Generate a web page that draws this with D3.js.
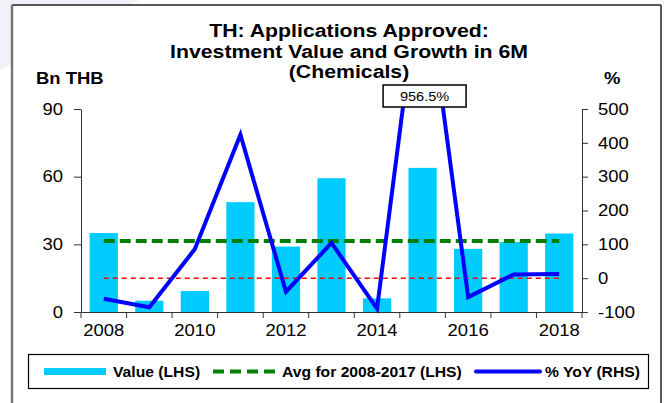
<html>
<head>
<meta charset="utf-8">
<title>TH Applications Approved - Chemicals</title>
<script src="https://cdn.jsdelivr.net/npm/d3@7"></script>
<style>
  body { margin: 0; background: #fff; }
  text { font-family: "Liberation Sans", Arial, sans-serif; fill: #000; }
</style>
</head>
<body>
<div id="chart"></div>
<script>
(function(){
  "use strict";

  // data
  var years = ["2008","2009","2010","2011","2012","2013","2014","2015","2016","2017","2018"];
  var values = [35, 5, 9.3, 48.7, 29, 59.3, 6.05, 63.9, 28, 31, 34.8];        // Bn THB (LHS)
  var yoy = [-61, -86, 86, 424, -40, 104, -89.8, 956.5, -56, 11, 12];          // % YoY (RHS)
  var avg0817 = 31.5;                                                            // avg 2008-2017 (LHS)
  var yearLabels = ["2008","2010","2012","2014","2016","2018"];
  var leftTicks = [0, 30, 60, 90];
  var rightTicks = [-100, 0, 100, 200, 300, 400, 500];
  var titleLines = ["TH: Applications Approved:", "Investment Value and Growth in 6M", "(Chemicals)"];
  var legendNames = ["Value (LHS)", "Avg for 2008-2017 (LHS)", "% YoY (RHS)"];

  var W = 669, H = 403;
  var K = 1.12; // horizontal stretch of the lettering
  var plot = { left: 81, right: 582, top: 109, bottom: 312 };

  var svg = d3.select("#chart").append("svg")
    .attr("width", W).attr("height", H);

  // faint backdrop at top-left corner
  svg.append("path")
    .attr("d", "M0,0 L140,0 L0,70 Z")
    .attr("fill", "#f1f1fa");

  // outer frame
  svg.append("rect").attr("x", 12).attr("y", 5).attr("width", 649).attr("height", 420)
    .attr("fill", "#fff").attr("stroke", "none");
  svg.append("line").attr("x1", 12).attr("y1", 5).attr("x2", 661).attr("y2", 5)
    .attr("stroke", "#222").attr("stroke-width", 1.5);
  svg.append("line").attr("x1", 661).attr("y1", 5).attr("x2", 661).attr("y2", H)
    .attr("stroke", "#222").attr("stroke-width", 1.5);
  svg.append("line").attr("x1", 12).attr("y1", 5).attr("x2", 12).attr("y2", H)
    .attr("stroke", "#777").attr("stroke-width", 2.5);

  function label(parent, x, y, s, size, weight, anchor) {
    return parent.append("text")
      .attr("transform", "translate(" + x + "," + y + ") scale(" + K + ",1)")
      .attr("font-size", size)
      .attr("font-weight", weight)
      .attr("text-anchor", anchor)
      .text(s);
  }

  // title
  var titleY = [37, 57.5, 78];
  titleLines.forEach(function(t, i){
    label(svg, 349, titleY[i], t, 19, "bold", "middle");
  });
  label(svg, 36, 84, "Bn THB", 16.5, "bold", "start");
  label(svg, 604, 84, "%", 16.5, "bold", "start");

  // scales
  var x = d3.scaleBand()
    .domain(years)
    .range([plot.left, plot.right])
    .paddingInner(0.38)
    .paddingOuter(0.19);
  var xEdge = d3.scaleLinear().domain([0, years.length]).range([plot.left, plot.right]);
  var yL = d3.scaleLinear().domain([0, 90]).range([plot.bottom, plot.top]);
  var yR = d3.scaleLinear().domain([-100, 500]).range([plot.bottom, plot.top]);
  var cx = function(d){ return x(d) + x.bandwidth() / 2; };

  // bars
  svg.append("g").selectAll("rect")
    .data(years)
    .enter().append("rect")
      .attr("x", function(d){ return x(d); })
      .attr("width", x.bandwidth())
      .attr("y", function(d, i){ return yL(values[i]); })
      .attr("height", function(d, i){ return yL(0) - yL(values[i]); })
      .attr("fill", "#00ccff");

  // zero line of RHS (red dashed)
  svg.append("line")
    .attr("x1", cx(years[0])).attr("x2", cx(years[years.length - 1]))
    .attr("y1", yR(0)).attr("y2", yR(0))
    .attr("stroke", "#ff0000").attr("stroke-width", 1.5)
    .attr("stroke-dasharray", "5,4");

  // average line (green dashed)
  svg.append("line")
    .attr("x1", cx(years[0])).attr("x2", cx(years[years.length - 1]))
    .attr("y1", yL(avg0817)).attr("y2", yL(avg0817))
    .attr("stroke", "#008000").attr("stroke-width", 4)
    .attr("stroke-dasharray", "11,5");

  // yoy line, clipped near the top of the plot
  svg.append("clipPath").attr("id", "clipTop")
    .append("rect").attr("x", 0).attr("y", 95).attr("width", W).attr("height", H);

  var line = d3.line()
    .x(function(d, i){ return cx(years[i]); })
    .y(function(d){ return yR(d); });

  svg.append("path")
    .datum(yoy)
    .attr("clip-path", "url(#clipTop)")
    .attr("d", line)
    .attr("fill", "none")
    .attr("stroke", "#0000ff")
    .attr("stroke-width", 4)
    .attr("stroke-linejoin", "miter");

  // callout for the off-scale point
  var peak = years[yoy.indexOf(d3.max(yoy))];
  var boxW = 83, boxH = 22;
  var bx = cx(peak) + 2 - boxW / 2, by = yR(500) - 2 - boxH;
  svg.append("rect")
    .attr("x", bx).attr("y", by).attr("width", boxW).attr("height", boxH)
    .attr("fill", "#fff").attr("stroke", "#000").attr("stroke-width", 1.5);
  label(svg, bx + boxW / 2, by + 16, d3.max(yoy) + "%", 13, "normal", "middle");

  function stretchTicks(g) {
    g.selectAll("text")
      .attr("font-family", "'Liberation Sans', Arial, sans-serif")
      .attr("fill", "#000")
      .attr("x", function(){ return (+d3.select(this).attr("x") || 0) / K; })
      .attr("transform", "scale(" + K + ",1)");
    g.selectAll("path, line").attr("stroke", "#333");
  }

  // left axis
  var gL = svg.append("g")
    .attr("transform", "translate(" + plot.left + ",0)")
    .call(d3.axisLeft(yL).tickValues(leftTicks).tickFormat(String)
      .tickSize(7).tickSizeOuter(0).tickPadding(11))
    .attr("font-size", 16.5);
  stretchTicks(gL);

  // right axis
  var gR = svg.append("g")
    .attr("transform", "translate(" + plot.right + ",0)")
    .call(d3.axisRight(yR).tickValues(rightTicks).tickFormat(String)
      .tickSize(6).tickSizeOuter(0).tickPadding(10))
    .attr("font-size", 16.5);
  stretchTicks(gR);

  // bottom axis: labels at every other year, tick marks at category edges
  var gB = svg.append("g")
    .attr("transform", "translate(0," + plot.bottom + ")")
    .call(d3.axisBottom(x).tickValues(yearLabels).tickSize(0).tickSizeOuter(0).tickPadding(12))
    .attr("font-size", 16.5);
  stretchTicks(gB);
  gB.selectAll(".tick line").remove();
  gB.selectAll(".edge")
    .data(d3.range(years.length + 1))
    .enter().append("line")
      .attr("class", "edge")
      .attr("x1", function(d){ return xEdge(d); })
      .attr("x2", function(d){ return xEdge(d); })
      .attr("y1", 0).attr("y2", 6)
      .attr("stroke", "#333");

  // legend
  var lg = svg.append("g");
  lg.append("rect")
    .attr("x", 28.5).attr("y", 354.5).attr("width", 620).attr("height", 34)
    .attr("fill", "#fff").attr("stroke", "#000").attr("stroke-width", 1.2);
  var ly = 371.5;
  lg.append("rect").attr("x", 44).attr("y", ly - 3.5).attr("width", 62).attr("height", 7)
    .attr("fill", "#00ccff");
  label(lg, 113, ly + 5.5, legendNames[0], 14, "bold", "start");
  lg.append("line").attr("x1", 213).attr("x2", 277).attr("y1", ly).attr("y2", ly)
    .attr("stroke", "#008000").attr("stroke-width", 4).attr("stroke-dasharray", "11,6");
  label(lg, 282, ly + 5.5, legendNames[1], 14, "bold", "start");
  lg.append("line").attr("x1", 476).attr("x2", 540).attr("y1", ly).attr("y2", ly)
    .attr("stroke", "#0000ff").attr("stroke-width", 4).attr("stroke-linecap", "round");
  label(lg, 545, ly + 5.5, legendNames[2], 14, "bold", "start");

})();
</script>
</body>
</html>
